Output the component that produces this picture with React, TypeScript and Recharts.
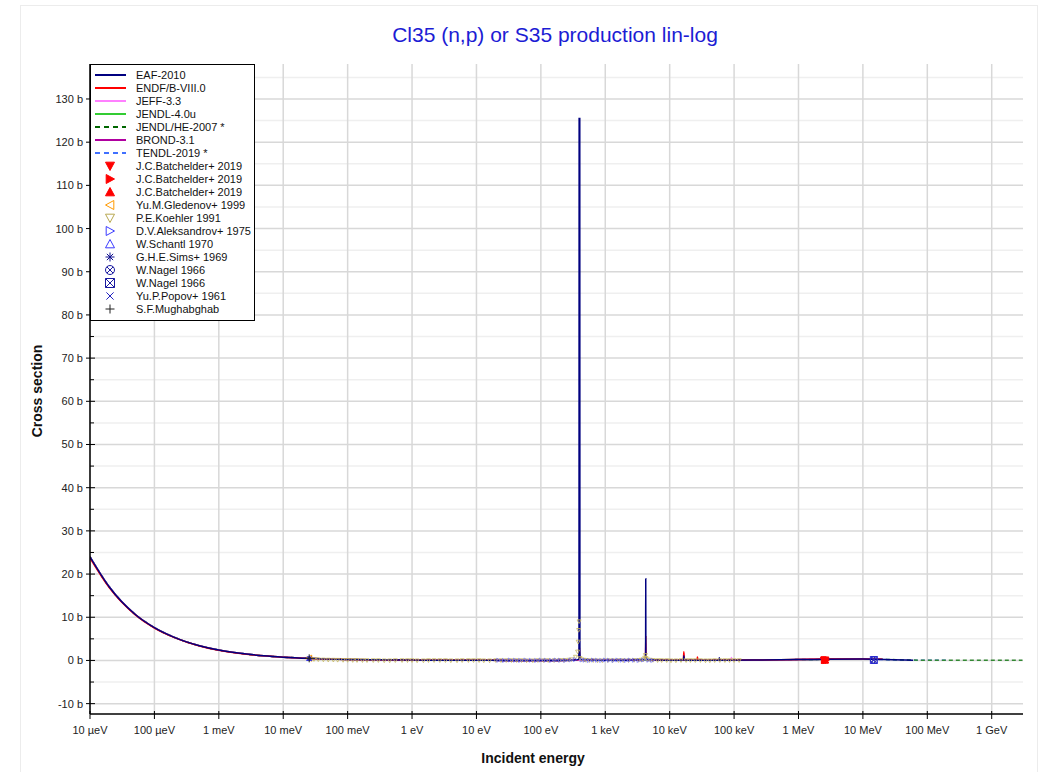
import React from 'react';
import { ComposedChart, Line, Scatter, XAxis, YAxis, CartesianGrid } from 'recharts';

const FONT = '"Liberation Sans", Arial, sans-serif';

const xTicks = [1e-5, 1e-4, 1e-3, 1e-2, 1e-1, 1, 10, 100, 1e3, 1e4, 1e5, 1e6, 1e7, 1e8, 1e9];
const xTickLabels = ['10 µeV', '100 µeV', '1 meV', '10 meV', '100 meV', '1 eV', '10 eV', '100 eV', '1 keV', '10 keV', '100 keV', '1 MeV', '10 MeV', '100 MeV', '1 GeV'];
const yMajor = [-10, 0, 10, 20, 30, 40, 50, 60, 70, 80, 90, 100, 110, 120, 130];
const yMinor = [-5, 5, 15, 25, 35, 45, 55, 65, 75, 85, 95, 105, 115, 125, 135];

// 1/v part, energies in eV, cross sections in barn
const thermalE = [1e-5, 2e-5, 5e-5, 1e-4, 2e-4, 5e-4, 1e-3, 2e-3, 5e-3, 1e-2, 2.53e-2, 5e-2, 0.1, 0.3, 1, 3, 10, 30, 100];
const thermalXs = [24.0, 17.0, 10.7, 7.6, 5.4, 3.4, 2.4, 1.7, 1.07, 0.76, 0.48, 0.34, 0.24, 0.14, 0.076, 0.044, 0.024, 0.014, 0.008];
const endfThermalXs = [23.7, 16.8, 10.6, 7.5, 5.35, 3.36, 2.37, 1.68, 1.06, 0.75, 0.475, 0.335, 0.237, 0.138, 0.075, 0.043, 0.024, 0.014, 0.008];

const eafE = [300, 385, 391, 393, 402, 404, 411, 700, 2000, 4150, 4230, 4250, 4270, 4350, 9000, 16300, 16600, 16900, 35000, 58200, 59000, 59800, 2e5, 1e6, 3e6, 1e7, 1.5e7, 3e7, 6e7];
const eafXs = [0.02, 0.2, 2, 125.5, 125.5, 2, 0.2, 0.03, 0.03, 0.2, 2, 18.9, 2, 0.2, 0.05, 0.05, 1.1, 0.05, 0.05, 0.05, 0.65, 0.05, 0.08, 0.2, 0.28, 0.32, 0.28, 0.15, 0.05];

const endfE = [300, 390, 396, 398, 400, 406, 700, 2000, 4150, 4230, 4250, 4270, 4350, 9000, 16300, 16600, 16900, 26500, 27000, 27500, 2e5, 1e6, 3e6, 1e7, 2e7];
const endfXs = [0.02, 0.2, 0.6, 3.0, 0.6, 0.2, 0.03, 0.03, 0.2, 1, 5.5, 1, 0.2, 0.05, 0.05, 2.0, 0.05, 0.05, 0.8, 0.05, 0.1, 0.22, 0.33, 0.36, 0.3];

const jeffE = [300, 2000, 4200, 4250, 4300, 9000, 16400, 16600, 16800, 89000, 91000, 93000, 1e6, 3e6, 1e7, 2e7];
const jeffXs = [0.02, 0.03, 0.2, 4, 0.2, 0.05, 0.05, 1.6, 0.05, 0.05, 0.7, 0.05, 0.22, 0.3, 0.33, 0.28];

const jendl4E = [300, 2000, 1e5, 1e6, 3e6, 1e7, 2e7];
const jendl4Xs = [0.02, 0.03, 0.06, 0.2, 0.28, 0.3, 0.26];

const brondE = [300, 2000, 1e5, 1e6, 3e6, 1e7, 2e7];
const brondXs = [0.02, 0.03, 0.06, 0.2, 0.27, 0.3, 0.25];

const tendlE = [300, 2000, 1e5, 1e6, 3e6, 1e7, 3e7, 6e7, 1e8, 2e8];
const tendlXs = [0.02, 0.03, 0.06, 0.2, 0.27, 0.3, 0.15, 0.06, 0.04, 0.03];

const jendlHeE = [300, 2000, 1e5, 1e6, 3e6, 1e7, 2e7, 5e7, 1e8, 3e8, 1e9, 3e9];
const jendlHeXs = [0.02, 0.03, 0.06, 0.2, 0.27, 0.3, 0.25, 0.1, 0.05, 0.03, 0.02, 0.02];

// experimental data
const koehlerE = [0.0253, 0.03, 0.035, 0.042, 0.05, 0.06, 0.07, 0.085, 0.1, 0.12, 0.14, 0.17, 0.2, 0.25, 0.3, 0.37, 0.45, 0.55, 0.7, 0.85, 1, 1.2, 1.5, 1.8, 2.2, 2.7, 3.3, 4, 5, 6, 7.5, 9, 11, 13, 16, 20, 24, 29, 35, 42, 50, 60, 75, 90, 110, 130, 160, 195, 230, 270, 300, 345, 372, 380, 386, 392, 405, 430, 470, 500, 570, 650, 760, 900, 1100, 1300, 1600, 1900, 2300, 2800, 3300, 3600, 3900, 4100, 4200, 4300, 4500, 5000, 5500, 6500, 7500, 9000, 10500, 12500, 15000, 18000, 21000, 25000, 30000, 36000, 42000, 50000, 60000, 72000, 85000, 100000, 120000];
const koehlerXs = [0.3, 0.25, 0.2, 0.15, 0.12, 0.1, 0.08, 0.05, 0.05, 0.02, 0.02, 0.0, 0.0, 0.0, 0.0, -0.05, -0.05, 0.0, 0.0, 0.0, 0.0, -0.05, -0.05, 0.0, 0.0, 0.0, 0.0, -0.05, -0.05, 0.0, 0.0, 0.0, 0.0, -0.05, -0.05, 0.0, 0.0, 0.0, 0.0, 0.0, 0.0, -0.05, -0.05, 0.0, 0.0, 0.0, 0.0, 0.05, 0.05, 0.1, 0.2, 0.8, 2.0, 4.3, 7.0, 9.0, 0.5, 0.2, 0.1, 0.05, 0.0, 0.0, -0.05, -0.05, 0.0, 0.0, 0.0, 0.0, 0.0, 0.05, 0.05, 0.1, 0.2, 0.6, 1.2, 0.5, 0.2, 0.1, 0.05, 0.0, 0.0, 0.0, -0.05, -0.05, 0.0, 0.0, 0.0, 0.0, 0.0, -0.05, -0.05, 0.0, 0.0, 0.0, 0.0, 0.0, 0.0];

const aleksandrovE = [22, 27, 33, 40, 48, 58, 70, 85, 100, 120, 145, 170, 200, 240, 290, 340, 430, 480, 560, 650, 750, 870, 1000, 1150, 1350, 1550, 1800, 2100, 2400, 2800, 3300, 3900, 4700, 5400];
const aleksandrovXs = [0.05, 0.0, 0.1, 0.05, 0.0, 0.1, 0.05, 0.0, 0.1, 0.05, 0.0, 0.1, 0.05, 0.0, 0.1, 0.2, 0.1, 0.05, 0.0, 0.1, 0.05, 0.0, 0.1, 0.05, 0.0, 0.1, 0.05, 0.0, 0.1, 0.05, 0.0, 0.1, 0.05, 0.0];

const batchDownE = [2.48e6, 2.62e6];
const batchDownXs = [0.08, 0.1];
const batchRightE = [2.52e6, 2.66e6];
const batchRightXs = [0.09, 0.08];
const batchUpE = [2.55e6, 2.6e6];
const batchUpXs = [0.07, 0.09];
const gledenovE = [0.0253];
const gledenovXs = [0.52];
const schantlE = [0.0253];
const schantlXs = [0.47];
const simsE = [0.0253];
const simsXs = [0.44];
const nagelCircE = [1.45e7];
const nagelCircXs = [0.1];
const nagelSqE = [1.48e7];
const nagelSqXs = [0.1];
const popovE = [0.0253];
const popovXs = [0.49];
const mughabE = [0.0253];
const mughabXs = [0.489];

const pts = (e: number[], v: number[]) => e.map((x, i) => ({ x, y: v[i] }));
const lib = (e1: number[], v1: number[], e2: number[], v2: number[]) => [...pts(e1, v1), ...pts(e2, v2)];

type Kind = 'line' | 'dash' | 'tdown' | 'tright' | 'tup' | 'tleftO' | 'tdownO' | 'trightO' | 'tupO' | 'star' | 'circX' | 'sqX' | 'x' | 'plus';

function mark(kind: Kind, cx: number, cy: number, s: number, c: string, op = 1) {
  const h = s / 2;
  const p = (d: string, fill: boolean) => (
    <path d={d} fill={fill ? c : 'none'} stroke={c} strokeWidth={1} opacity={op} />
  );
  switch (kind) {
    case 'tdown':
    case 'tdownO':
      return p(`M${cx - h},${cy - h * 0.85}L${cx + h},${cy - h * 0.85}L${cx},${cy + h}Z`, kind === 'tdown');
    case 'tup':
    case 'tupO':
      return p(`M${cx - h},${cy + h * 0.85}L${cx + h},${cy + h * 0.85}L${cx},${cy - h}Z`, kind === 'tup');
    case 'tright':
    case 'trightO':
      return p(`M${cx - h * 0.85},${cy - h}L${cx - h * 0.85},${cy + h}L${cx + h},${cy}Z`, kind === 'tright');
    case 'tleftO':
      return p(`M${cx + h * 0.85},${cy - h}L${cx + h * 0.85},${cy + h}L${cx - h},${cy}Z`, false);
    case 'star':
      return p(`M${cx - h},${cy}L${cx + h},${cy}M${cx},${cy - h}L${cx},${cy + h}M${cx - h * 0.7},${cy - h * 0.7}L${cx + h * 0.7},${cy + h * 0.7}M${cx - h * 0.7},${cy + h * 0.7}L${cx + h * 0.7},${cy - h * 0.7}`, false);
    case 'circX':
      return (
        <g stroke={c} fill="none" strokeWidth={1} opacity={op}>
          <circle cx={cx} cy={cy} r={h} />
          <path d={`M${cx - h * 0.7},${cy - h * 0.7}L${cx + h * 0.7},${cy + h * 0.7}M${cx - h * 0.7},${cy + h * 0.7}L${cx + h * 0.7},${cy - h * 0.7}`} />
        </g>
      );
    case 'sqX':
      return p(`M${cx - h},${cy - h}H${cx + h}V${cy + h}H${cx - h}ZM${cx - h},${cy - h}L${cx + h},${cy + h}M${cx - h},${cy + h}L${cx + h},${cy - h}`, false);
    case 'x':
      return p(`M${cx - h * 0.8},${cy - h * 0.8}L${cx + h * 0.8},${cy + h * 0.8}M${cx - h * 0.8},${cy + h * 0.8}L${cx + h * 0.8},${cy - h * 0.8}`, false);
    case 'plus':
      return p(`M${cx - h},${cy}L${cx + h},${cy}M${cx},${cy - h}L${cx},${cy + h}`, false);
    default:
      return null;
  }
}

const legendItems: { name: string; kind: Kind; color: string }[] = [
  { name: 'EAF-2010', kind: 'line', color: '#000080' },
  { name: 'ENDF/B-VIII.0', kind: 'line', color: '#ff0000' },
  { name: 'JEFF-3.3', kind: 'line', color: '#ff80ff' },
  { name: 'JENDL-4.0u', kind: 'line', color: '#33cc33' },
  { name: 'JENDL/HE-2007 *', kind: 'dash', color: '#006600' },
  { name: 'BROND-3.1', kind: 'line', color: '#b000a0' },
  { name: 'TENDL-2019 *', kind: 'dash', color: '#4070ff' },
  { name: 'J.C.Batchelder+ 2019', kind: 'tdown', color: '#ff0000' },
  { name: 'J.C.Batchelder+ 2019', kind: 'tright', color: '#ff0000' },
  { name: 'J.C.Batchelder+ 2019', kind: 'tup', color: '#ff0000' },
  { name: 'Yu.M.Gledenov+ 1999', kind: 'tleftO', color: '#ff9900' },
  { name: 'P.E.Koehler 1991', kind: 'tdownO', color: '#b8a850' },
  { name: 'D.V.Aleksandrov+ 1975', kind: 'trightO', color: '#3b3bff' },
  { name: 'W.Schantl 1970', kind: 'tupO', color: '#3b3bff' },
  { name: 'G.H.E.Sims+ 1969', kind: 'star', color: '#101090' },
  { name: 'W.Nagel 1966', kind: 'circX', color: '#1a1aa0' },
  { name: 'W.Nagel 1966', kind: 'sqX', color: '#1a1aa0' },
  { name: 'Yu.P.Popov+ 1961', kind: 'x', color: '#2020c0' },
  { name: 'S.F.Mughabghab', kind: 'plus', color: '#202020' },
];

const Legend = () => (
  <div
    style={{
      position: 'absolute', left: 90, top: 64, width: 165, height: 257,
      border: '1px solid #000', background: '#fff', boxSizing: 'border-box',
    }}
  >
    <svg width={165} height={257} style={{ position: 'absolute', left: -1, top: -1 }}>
      {legendItems.map((it, i) => {
        const cy = 11 + i * 13;
        return (
          <g key={i}>
            {it.kind === 'line' || it.kind === 'dash' ? (
              <line x1={5} x2={36} y1={cy} y2={cy} stroke={it.color} strokeWidth={2} strokeDasharray={it.kind === 'dash' ? '5 4' : undefined} />
            ) : (
              mark(it.kind, 20, cy, 9, it.color)
            )}
            <text x={46} y={cy + 4} fontSize={11} fontFamily={FONT} fill="#111">{it.name}</text>
          </g>
        );
      })}
    </svg>
  </div>
);

const shape = (kind: Kind, color: string, s = 6, op = 1) => (props: any) => mark(kind, props.cx, props.cy, s, color, op);

export default function App() {
  const tickText = { fontSize: 11, fontFamily: FONT, fill: '#222' };
  return (
    <div style={{ position: 'absolute', left: 0, top: 0, width: 1046, height: 772, background: '#fff' }}>
      <ComposedChart width={1046} height={772} margin={{ top: 64, right: 23, bottom: 28, left: 20 }}>
        <CartesianGrid vertical={false} horizontalValues={yMinor} stroke="#efefef" strokeWidth={1.5} />
        <CartesianGrid horizontalValues={yMajor} verticalValues={xTicks} stroke="#d8d8d8" strokeWidth={1.5} />
        <XAxis
          dataKey="x" type="number" scale="log" domain={[1e-5, 3.06e9]} allowDataOverflow
          ticks={xTicks} interval={0} height={30} tickSize={0} tickMargin={0}
          axisLine={{ stroke: '#000', strokeWidth: 1.5 }}
          tick={(p: any) => (
            <g>
              <line x1={p.x} x2={p.x} y1={p.y - 3} y2={p.y + 5} stroke="#000" />
              <text x={p.x} y={p.y + 20} textAnchor="middle" {...tickText}>
                {xTickLabels[xTicks.indexOf(p.payload.value)]}
              </text>
            </g>
          )}
        />
        <XAxis
          xAxisId="top" orientation="top" type="number" scale="log" domain={[1e-5, 3.06e9]} allowDataOverflow
          ticks={xTicks} interval={0} height={0} tickSize={0} tickMargin={0}
          axisLine={{ stroke: '#000', strokeWidth: 1.5 }}
          tick={(p: any) => <line x1={p.x} x2={p.x} y1={p.y} y2={p.y + 4} stroke="#555" />}
        />
        <YAxis
          type="number" domain={[-12.4, 138.1]} allowDataOverflow ticks={[...yMajor, ...yMinor].sort((a, b) => a - b)}
          interval={0} width={70} tickSize={0} tickMargin={0}
          axisLine={{ stroke: '#000', strokeWidth: 1.5 }}
          tick={(p: any) => {
            const v = p.payload.value;
            const major = v % 10 === 0;
            return major ? (
              <g>
                <line x1={p.x - 4} x2={p.x + 5} y1={p.y} y2={p.y} stroke="#000" />
                <text x={p.x - 7} y={p.y + 4} textAnchor="end" {...tickText}>{`${v} b`}</text>
              </g>
            ) : (
              <line x1={p.x} x2={p.x + 4} y1={p.y} y2={p.y} stroke="#000" />
            );
          }}
        />
        <YAxis
          yAxisId="right" orientation="right" type="number" domain={[-12.4, 138.1]} allowDataOverflow
          ticks={[...yMajor, ...yMinor].sort((a, b) => a - b)} interval={0} width={0} tickSize={0} tickMargin={0}
          axisLine={{ stroke: '#000', strokeWidth: 1.5 }}
          tick={(p: any) => <line x1={p.x - (p.payload.value % 10 === 0 ? 5 : 4)} x2={p.x} y1={p.y} y2={p.y} stroke="#000" />}
        />

        <Scatter data={pts(koehlerE, koehlerXs)} dataKey="y" shape={shape('tdownO', '#c8b860', 4, 0.8)} isAnimationActive={false} />
        <Scatter data={pts(aleksandrovE, aleksandrovXs)} dataKey="y" shape={shape('trightO', '#5a5aff', 4, 0.6)} isAnimationActive={false} />

        <Line data={lib(thermalE, thermalXs, tendlE, tendlXs)} dataKey="y" type="monotone" stroke="#4070ff" strokeWidth={1.5} strokeDasharray="4 3" dot={false} isAnimationActive={false} />
        <Line data={lib(thermalE, thermalXs, jendlHeE, jendlHeXs)} dataKey="y" type="monotone" stroke="#338833" strokeWidth={1.5} strokeDasharray="4 3" dot={false} isAnimationActive={false} />
        <Line data={lib(thermalE, thermalXs, brondE, brondXs)} dataKey="y" type="monotone" stroke="#b000a0" strokeWidth={1.5} dot={false} isAnimationActive={false} />
        <Line data={lib(thermalE, thermalXs, jendl4E, jendl4Xs)} dataKey="y" type="monotone" stroke="#33cc33" strokeWidth={1.5} dot={false} isAnimationActive={false} />
        <Line data={lib(thermalE, thermalXs, jeffE, jeffXs)} dataKey="y" type="monotone" stroke="#ff80ff" strokeWidth={1.5} dot={false} isAnimationActive={false} />
        <Line data={lib(thermalE, endfThermalXs, endfE, endfXs)} dataKey="y" type="monotone" stroke="#ff0000" strokeWidth={1.5} dot={false} isAnimationActive={false} />
        <Line data={lib(thermalE, thermalXs, eafE, eafXs)} dataKey="y" type="monotone" stroke="#000080" strokeWidth={1.5} dot={false} isAnimationActive={false} />

        <Scatter data={pts(batchDownE, batchDownXs)} dataKey="y" shape={shape('tdown', '#ff0000', 7)} isAnimationActive={false} />
        <Scatter data={pts(batchRightE, batchRightXs)} dataKey="y" shape={shape('tright', '#ff0000', 7)} isAnimationActive={false} />
        <Scatter data={pts(batchUpE, batchUpXs)} dataKey="y" shape={shape('tup', '#ff0000', 7)} isAnimationActive={false} />
        <Scatter data={pts(gledenovE, gledenovXs)} dataKey="y" shape={shape('tleftO', '#ff9900', 6)} isAnimationActive={false} />
        <Scatter data={pts(schantlE, schantlXs)} dataKey="y" shape={shape('tupO', '#3b3bff', 5)} isAnimationActive={false} />
        <Scatter data={pts(simsE, simsXs)} dataKey="y" shape={shape('star', '#101090', 5)} isAnimationActive={false} />
        <Scatter data={pts(nagelCircE, nagelCircXs)} dataKey="y" shape={shape('circX', '#1a1aa0', 6)} isAnimationActive={false} />
        <Scatter data={pts(nagelSqE, nagelSqXs)} dataKey="y" shape={shape('sqX', '#2a2ad0', 7)} isAnimationActive={false} />
        <Scatter data={pts(popovE, popovXs)} dataKey="y" shape={shape('x', '#2020c0', 5)} isAnimationActive={false} />
        <Scatter data={pts(mughabE, mughabXs)} dataKey="y" shape={shape('plus', '#202020', 8)} isAnimationActive={false} />
      </ComposedChart>

      <svg width={1046} height={772} style={{ position: 'absolute', left: 0, top: 0, pointerEvents: 'none' }}>
        <rect x={20.5} y={5.5} width={1017} height={800} fill="none" stroke="#ececec" />
        <text x={555} y={42} textAnchor="middle" fontSize={21} fontFamily={FONT} fill="#1c1cd4">
          Cl35 (n,p) or S35 production lin-log
        </text>
        <text x={533} y={763} textAnchor="middle" fontSize={14} fontWeight="bold" fontFamily={FONT} fill="#111">
          Incident energy
        </text>
        <text x={42} y={391} transform="rotate(-90 42 391)" textAnchor="middle" fontSize={14} fontWeight="bold" fontFamily={FONT} fill="#111">
          Cross section
        </text>
      </svg>
      <Legend />
    </div>
  );
}
